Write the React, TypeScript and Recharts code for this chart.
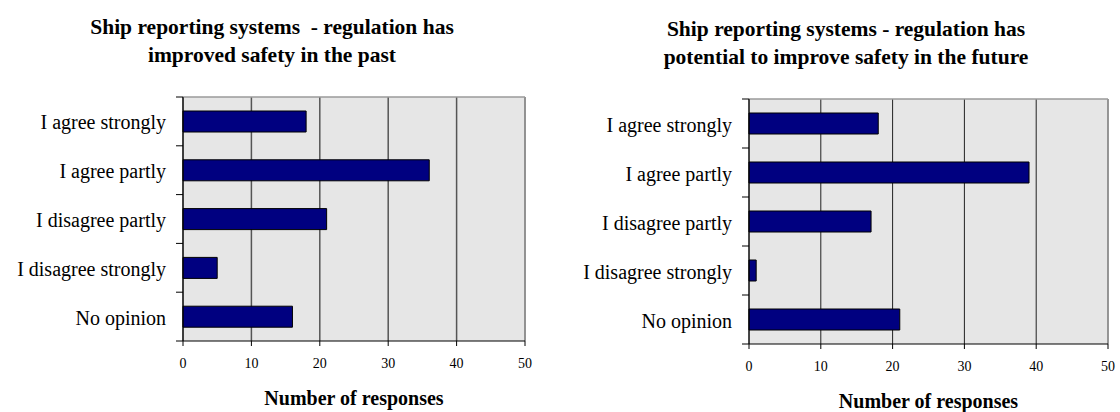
import React from 'react';
import { BarChart, Bar, XAxis, YAxis, CartesianGrid } from 'recharts';

const categories = ['I agree strongly', 'I agree partly', 'I disagree partly', 'I disagree strongly', 'No opinion'];
const pastValues = [18, 36, 21, 5, 16];
const futureValues = [18, 39, 17, 1, 21];
const xTicks = [0, 10, 20, 30, 40, 50];
const pastTitle = ['Ship reporting systems  - regulation has', 'improved safety in the past'];
const futureTitle = ['Ship reporting systems - regulation has', 'potential to improve safety in the future'];
const axisTitle = 'Number of responses';

const FONT = '"Liberation Serif", "Times New Roman", serif';
const Y_TICK_SIZE = 7;
const Y_TICK_MARGIN = 10;

// Category label plus tick marks at the band boundaries (as in the original)
function CategoryTick(props: any) {
  const { x, y, payload, index, visibleTicksCount } = props;
  const axisX = x + Y_TICK_SIZE + Y_TICK_MARGIN;
  const half = payload && payload.offset ? payload.offset : 0;
  const isLast = index === (visibleTicksCount ?? categories.length) - 1;
  return (
    <g>
      <line x1={axisX - Y_TICK_SIZE} x2={axisX} y1={y - half} y2={y - half} stroke="#000" strokeWidth={1} />
      {isLast && (
        <line x1={axisX - Y_TICK_SIZE} x2={axisX} y1={y + half} y2={y + half} stroke="#000" strokeWidth={1} />
      )}
      <text x={x} y={y} dy="0.4em" textAnchor="end" fill="#000" fontSize={20} fontFamily={FONT}>
        {payload.value}
      </text>
    </g>
  );
}

type Cfg = {
  left: number;
  values: number[];
  title: string[];
  titleCenter: number;
  titleTop: number;
  margin: { top: number; right: number; bottom: number; left: number };
  yWidth: number;
  xHeight: number;
  gridColor: string;
  gridWidth: number;
};

function SurveyChart({ cfg }: { cfg: Cfg }) {
  const data = categories.map((c, i) => ({ category: c, value: cfg.values[i] }));
  return (
    <div style={{ position: 'absolute', left: cfg.left, top: 0, width: 560, height: 412 }}>
      <div
        style={{
          position: 'absolute',
          left: 0,
          top: cfg.titleTop,
          width: cfg.titleCenter * 2,
          textAlign: 'center',
          fontFamily: FONT,
          fontWeight: 'bold',
          fontSize: 21.5,
          lineHeight: '28px',
          whiteSpace: 'pre',
          color: '#000',
        }}
      >
        {cfg.title.map((t, i) => (
          <div key={i}>{t}</div>
        ))}
      </div>
      <div style={{ position: 'absolute', left: 0, top: 0 }}>
        <BarChart width={560} height={412} layout="vertical" data={data} margin={cfg.margin} barSize={21}>
          <CartesianGrid
            yAxisId="cat"
            horizontal={false}
            fill="#e6e6e6"
            fillOpacity={1}
            stroke={cfg.gridColor}
            strokeWidth={cfg.gridWidth}
          />
          <CartesianGrid
            yAxisId="cat"
            stroke="#9a9a9a"
            strokeWidth={1.5}
            horizontalCoordinatesGenerator={({ offset }: any) => [offset.top]}
            verticalCoordinatesGenerator={({ offset }: any) => [offset.left + offset.width]}
          />
          <YAxis
            yAxisId="cat"
            type="category"
            dataKey="category"
            width={cfg.yWidth}
            interval={0}
            tickLine={false}
            tickSize={Y_TICK_SIZE}
            tickMargin={Y_TICK_MARGIN}
            axisLine={{ stroke: '#000', strokeWidth: 1 }}
            tick={<CategoryTick />}
          />
          <XAxis
            type="number"
            domain={[0, 50]}
            ticks={xTicks}
            interval={0}
            height={cfg.xHeight}
            tickSize={5}
            tickMargin={12}
            axisLine={{ stroke: '#000', strokeWidth: 1 }}
            tickLine={{ stroke: '#000', strokeWidth: 1 }}
            tick={{ fill: '#000', fontSize: 14, fontFamily: FONT }}
            label={{
              value: axisTitle,
              position: 'insideBottom',
              offset: 2,
              fill: '#000',
              fontSize: 20,
              fontWeight: 'bold',
              fontFamily: FONT,
            }}
          />
          <Bar
            yAxisId="cat"
            dataKey="value"
            fill="#000080"
            stroke="#000"
            strokeWidth={1}
            isAnimationActive={false}
          />
        </BarChart>
      </div>
    </div>
  );
}

const leftCfg: Cfg = {
  left: 0,
  values: pastValues,
  title: pastTitle,
  titleCenter: 272,
  titleTop: 13,
  margin: { top: 97, right: 35, bottom: 5, left: 0 },
  yWidth: 183,
  xHeight: 66,
  gridColor: '#555',
  gridWidth: 1.5,
};

const rightCfg: Cfg = {
  left: 560,
  values: futureValues,
  title: futureTitle,
  titleCenter: 286,
  titleTop: 15,
  margin: { top: 99, right: 12, bottom: 2, left: 0 },
  yWidth: 189,
  xHeight: 66,
  gridColor: '#222',
  gridWidth: 1,
};

export default function App() {
  return (
    <div style={{ position: 'absolute', left: 0, top: 0, width: 1120, height: 412, background: '#fff', overflow: 'hidden' }}>
      <SurveyChart cfg={leftCfg} />
      <SurveyChart cfg={rightCfg} />
    </div>
  );
}
